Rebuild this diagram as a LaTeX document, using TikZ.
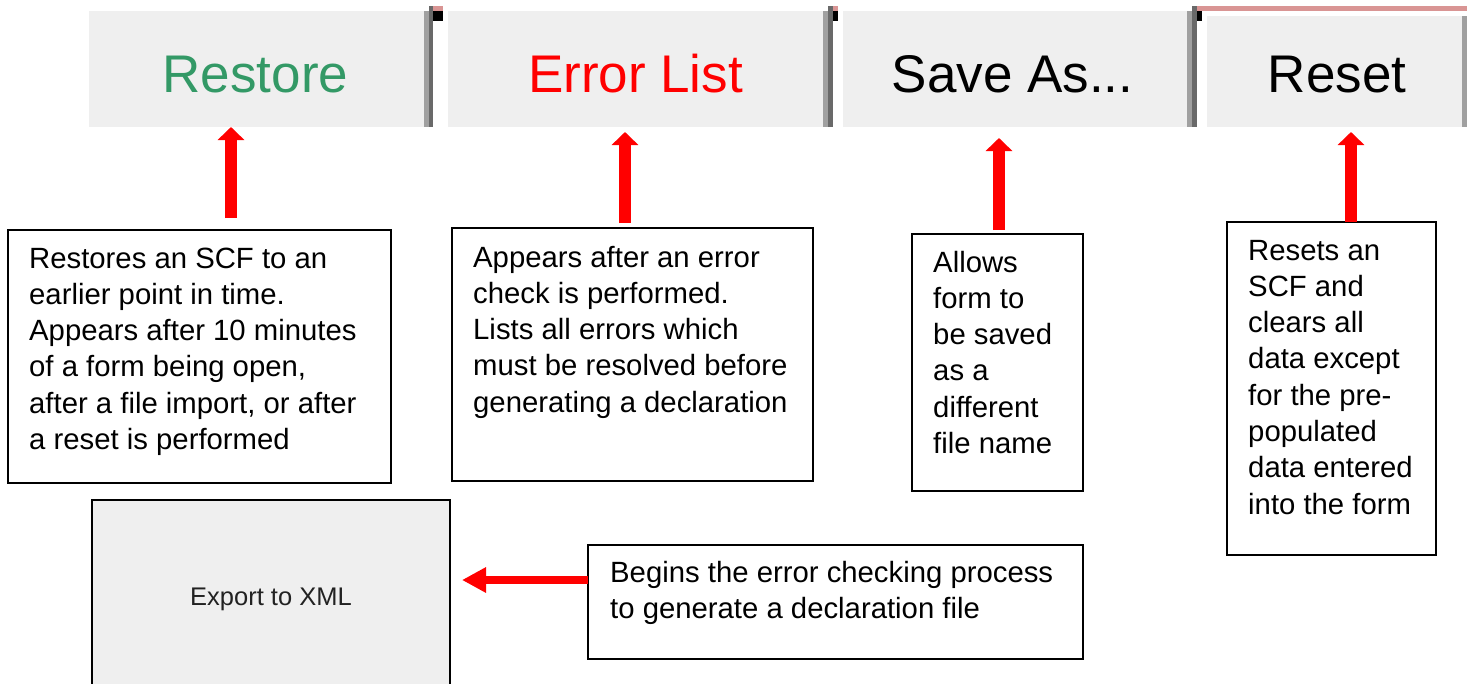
\documentclass[tikz,border=0pt]{standalone}
\usepackage{fontspec}
\setmainfont{Liberation Sans}
\usetikzlibrary{arrows.meta,calc}
\definecolor{btnfill}{HTML}{EFEFEF}
\definecolor{barlight}{HTML}{A0A0A0}
\definecolor{bardark}{HTML}{696969}
\definecolor{pinkstrip}{HTML}{D99594}
\definecolor{restoregreen}{HTML}{339966}
\definecolor{arrowred}{HTML}{FF0000}
\definecolor{exporttext}{HTML}{222222}
\newcommand{\desctext}[1]{\parbox[t]{600pt}{\raggedright #1}}
\begin{document}
\begin{tikzpicture}[x=1pt,y=-1pt,
  btn/.style={fill=btnfill, draw=none, anchor=north west, inner sep=0pt, outer sep=0pt},
  btntxt/.style={anchor=base, inner sep=0pt, font=\fontsize{53}{60}\selectfont},
  descbox/.style={draw=black, line width=1.8pt, anchor=north west, inner sep=0pt, outer sep=0pt},
  desctxt/.style={anchor=base west, inner sep=0pt, font=\fontsize{29.3}{36.3}\selectfont},
  uparrow/.style={draw=arrowred, line width=12pt, -{Triangle[width=26pt,length=13pt]}},
  sidearrow/.style={draw=arrowred, line width=8pt, -{Triangle[width=24pt,length=24pt]}}]
\useasboundingbox (0,0) rectangle (1470,683);
\clip (0,0) rectangle (1470,683);

% buttons
\node[btn, minimum width=335pt, minimum height=116pt] (restore) at (89,11) {};
\node[btn, minimum width=375pt, minimum height=116pt] (errlist) at (448,11) {};
\node[btn, minimum width=344pt, minimum height=116pt] (saveas) at (843,11) {};
\node[btn, minimum width=255pt, minimum height=111pt] (reset) at (1207,16) {};

% separators
\fill[barlight] (424,11) rectangle (429,127);
\fill[bardark] (429,6) rectangle (433,127);
\fill[pinkstrip] (433,6) rectangle (443,11);
\fill[black] (433,11) rectangle (443,21);
\fill[barlight] (823,11) rectangle (828,127);
\fill[bardark] (828,6) rectangle (833,127);
\fill[pinkstrip] (833,6) rectangle (838,11);
\fill[black] (833,11) rectangle (838,21);
\fill[barlight] (1187,11) rectangle (1192,127);
\fill[bardark] (1192,6) rectangle (1197,127);
\fill[pinkstrip] (1197,6) rectangle (1467,11);
\fill[black] (1197,11) rectangle (1202,21);
\fill[barlight] (1462,16) rectangle (1467,127);

% button labels
\node[btntxt, text=restoregreen] (restoretxt) at (255.5,92) {Restore};
\node[btntxt, text=arrowred] (errlisttxt) at (635.5,92) {Error List};
\node[btntxt, text=black] (saveastxt) at (1012.5,92) {Save As...};
\node[btntxt, text=black] (resettxt) at (1337,92) {Reset};

% export button
\node[descbox, fill=btnfill, minimum width=358pt, minimum height=200pt] (export) at (92,500) {};
\node[anchor=base, inner sep=0pt, text=exporttext, font=\fontsize{25.5}{30}\selectfont] (exporttxt) at (271,605) {Export to XML};

% description boxes
\node[descbox, minimum width=383pt, minimum height=253pt] (b1) at (8,230) {};
\node[desctxt] (t1) at (29,268) {\desctext{Restores an SCF to an\\ earlier point in time.\\ Appears after 10 minutes\\ of a form being open,\\ after a file import, or after\\ a reset is performed}};

\node[descbox, minimum width=361pt, minimum height=253pt] (b2) at (452,228) {};
\node[desctxt] (t2) at (473,267) {\desctext{Appears after an error\\ check is performed.\\ Lists all errors which\\ must be resolved before\\ generating a declaration}};

\node[descbox, minimum width=171pt, minimum height=257pt] (b3) at (912,234) {};
\node[desctxt] (t3) at (933,272) {\desctext{Allows\\ form to\\ be saved\\ as a\\ different\\ file name}};

\node[descbox, minimum width=209pt, minimum height=333pt] (b4) at (1227,222) {};
\node[desctxt] (t4) at (1248,260) {\desctext{Resets an\\ SCF and\\ clears all\\ data except\\ for the pre-\\ populated\\ data entered\\ into the form}};

\node[descbox, minimum width=495pt, minimum height=114pt] (b5) at (588,545) {};
\node[desctxt] (t5) at (610,582) {\desctext{Begins the error checking process\\[-0.3pt] to generate a declaration file}};

% arrows
\coordinate (a1s) at ([xshift=31.5pt,yshift=12pt]b1.north);
\coordinate (a2s) at ([xshift=-7.5pt,yshift=5pt]b2.north);
\coordinate (a3s) at ([xshift=1.5pt,yshift=4pt]b3.north);
\coordinate (a4s) at ([xshift=19.5pt]b4.north);
\draw[uparrow] (a1s) -- (a1s |- restore.south);
\draw[uparrow] (a2s) -- ($(a2s |- errlist.south)+(0,5)$);
\draw[uparrow] (a3s) -- ($(a3s |- saveas.south)+(0,11)$);
\draw[uparrow] (a4s) -- ($(a4s |- reset.south)+(0,5)$);
\coordinate (a5s) at ([yshift=22pt]b5.west);
\draw[sidearrow] (a5s) -- ($(export.east |- a5s)+(12,0)$);
\end{tikzpicture}
\end{document}
